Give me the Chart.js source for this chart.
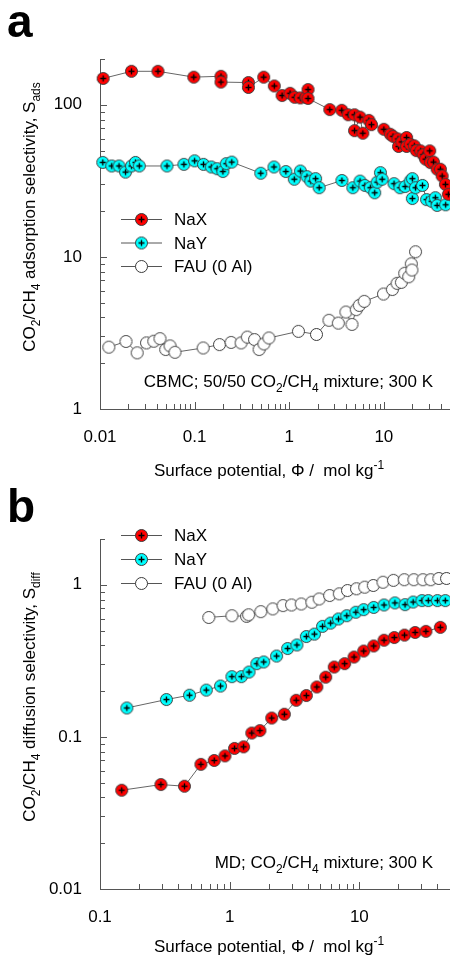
<!DOCTYPE html>
<html>
<head>
<meta charset="utf-8">
<script src="https://cdn.jsdelivr.net/npm/chart.js@4.4.0/dist/chart.umd.min.js"></script>
<style>
  html, body { margin: 0; padding: 0; background: #fff; overflow: hidden; }
  .panel { position: absolute; left: 0; width: 450px; height: 480px; }
</style>
</head>
<body>
<div class="panel" style="top:0"><canvas id="adsChart" width="450" height="480"></canvas></div>
<div class="panel" style="top:480px"><canvas id="diffChart" width="450" height="480"></canvas></div>
<script>
// series labels
const seriesNames = ["NaX", "NaY", "FAU (0 Al)"];

// panel a: adsorption selectivity vs surface potential  [phi, S_ads]
const adsNaX = [
  [0.0108, 149], [0.0215, 166], [0.041, 166], [0.098, 152], [0.19, 154], [0.19, 141],
  [0.37, 140], [0.37, 130], [0.537, 152], [0.695, 133], [0.84, 115], [1.02, 119],
  [1.14, 112], [1.31, 111], [1.5, 112], [1.58, 126], [1.58, 110], [2.68, 93],
  [3.59, 92], [4.2, 86], [4.9, 86], [4.9, 67.6], [5.6, 83], [6.0, 65], [6.95, 79],
  [7.4, 74], [10, 69], [11.7, 64], [12.5, 62], [14.1, 59.6], [14.3, 53.2], [15.5, 57],
  [17.4, 61], [17.4, 53.2], [19, 55], [21, 53.7], [22, 50], [24.5, 49.8], [26, 47],
  [27.6, 43.9], [30.5, 49.8], [31, 41.7], [33.5, 42], [36.6, 37.7], [39.6, 37.7],
  [41.3, 34], [44.7, 30], [48, 25.8]
];
const adsNaY = [
  [0.0107, 41.8], [0.0133, 39.6], [0.0159, 39.6], [0.0186, 36.1], [0.0215, 39.6],
  [0.0237, 41.8], [0.026, 39.6], [0.051, 39.6], [0.077, 40.6], [0.1, 42.8], [0.124, 40.6],
  [0.15, 39], [0.173, 38], [0.199, 36.4], [0.216, 41], [0.247, 42], [0.5, 35.5],
  [0.69, 39], [0.92, 36.4], [1.13, 32.4], [1.31, 36.7], [1.54, 33.7], [1.69, 31.5],
  [1.9, 32.7], [2.07, 28.5], [3.6, 31.8], [4.7, 28.5], [5.6, 31.5], [6.3, 29.5],
  [7.2, 28.5], [8.0, 26.4], [8.5, 31], [9.2, 35.8], [9.6, 32.4], [12.8, 30.3],
  [14.8, 28.5], [16.8, 29], [19, 31.5], [20, 32.7], [20, 24.2], [21.6, 28.5],
  [25.6, 29.5], [28.3, 23.8], [32, 23.2], [35, 24.5], [36.5, 21.8], [45, 22]
];
const adsFAU = [
  [0.0124, 2.55], [0.0188, 2.78], [0.0247, 2.34], [0.031, 2.72], [0.037, 2.79],
  [0.043, 2.9], [0.0495, 2.46], [0.055, 2.6], [0.062, 2.36], [0.123, 2.52], [0.183, 2.65],
  [0.243, 2.74], [0.31, 2.72], [0.36, 2.97], [0.43, 2.86], [0.48, 2.46], [0.54, 2.68],
  [0.61, 2.93], [1.25, 3.24], [1.94, 3.09], [2.63, 3.83], [3.3, 3.67], [3.97, 4.34],
  [4.6, 3.6], [5.1, 4.5], [5.5, 4.8], [6.2, 5.1], [9.9, 5.7], [12.3, 6.1], [13.8, 6.7],
  [15.3, 6.8], [16.6, 7.8], [18.3, 7.4], [19.5, 9.0], [19.8, 8.2], [21.6, 10.8]
];

// panel b: diffusion selectivity vs surface potential  [phi, S_diff]
const diffNaX = [
  [0.147, 0.0446], [0.295, 0.0486], [0.448, 0.0474], [0.6, 0.066], [0.76, 0.07],
  [0.92, 0.075], [1.09, 0.084], [1.28, 0.086], [1.48, 0.106], [1.71, 0.11], [2.11, 0.133],
  [2.64, 0.141], [3.26, 0.174], [3.9, 0.187], [4.7, 0.213], [5.5, 0.247], [6.4, 0.288],
  [7.7, 0.303], [9.1, 0.335], [10.8, 0.367], [12.9, 0.396], [15.5, 0.432], [18.6, 0.45],
  [22.3, 0.467], [26.9, 0.486], [32.6, 0.494], [42.1, 0.525]
];
const diffNaY = [
  [0.161, 0.155], [0.325, 0.176], [0.49, 0.188], [0.66, 0.203], [0.85, 0.216],
  [1.04, 0.249], [1.23, 0.249], [1.41, 0.267], [1.62, 0.303], [1.83, 0.311], [2.3, 0.34],
  [2.8, 0.381], [3.3, 0.402], [3.9, 0.457], [4.5, 0.474], [5.2, 0.533], [6.0, 0.56],
  [6.9, 0.596], [8.0, 0.626], [9.4, 0.66], [10.8, 0.686], [12.9, 0.71], [15.5, 0.737],
  [18.8, 0.76], [22.5, 0.74], [26, 0.77], [30.4, 0.787], [34, 0.787], [40, 0.787], [46, 0.787]
];
const diffFAU = [
  [0.69, 0.61], [1.04, 0.626], [1.35, 0.62], [1.4, 0.635], [1.74, 0.666], [2.15, 0.694],
  [2.58, 0.73], [3.0, 0.737], [3.56, 0.748], [4.3, 0.768], [4.9, 0.807], [5.9, 0.85],
  [7.0, 0.872], [8.1, 0.917], [9.5, 0.941], [11, 0.965], [12.8, 0.99], [15.2, 1.04],
  [18.3, 1.07], [22.2, 1.08], [26.3, 1.08], [30.9, 1.08], [35.5, 1.08], [41, 1.1], [47, 1.1]
];

// axis ranges and labelled ticks
const adsXRange = [0.01, 50];
const adsYRange = [1, 200];
const diffXRange = [0.1, 50];
const diffYRange = [0.01, 2];
const adsXTicks = ["0.01", "0.1", "1", "10"];
const adsYTicks = ["1", "10", "100"];
const diffXTicks = ["0.1", "1", "10"];
const diffYTicks = ["0.01", "0.1", "1"];

const FONT = "'Liberation Sans', Arial, sans-serif";
const AXIS = "#555";

// marker pictures (filled circle, optional +)
function makeMarker(fill, plus) {
  const c = document.createElement("canvas");
  c.width = 15; c.height = 15;
  const g = c.getContext("2d");
  g.beginPath();
  g.arc(7.5, 7.5, 6, 0, 2 * Math.PI);
  g.fillStyle = fill;
  g.fill();
  g.lineWidth = 1;
  g.strokeStyle = "#3a3a3a";
  g.stroke();
  if (plus) {
    g.beginPath();
    g.moveTo(4.5, 7.5); g.lineTo(10.5, 7.5);
    g.moveTo(7.5, 4.5); g.lineTo(7.5, 10.5);
    g.lineWidth = 1.4;
    g.strokeStyle = "#000";
    g.stroke();
  }
  return c;
}
const markers = [makeMarker("#ff0000", true), makeMarker("#00ffff", true), makeMarker("#ffffff", false)];

function drawRich(ctx, parts, x, y, size, align) {
  const small = Math.round(size * 0.68);
  const widths = parts.map(([t, m]) => {
    ctx.font = (m ? small : size) + "px " + FONT;
    return ctx.measureText(t).width;
  });
  const total = widths.reduce((a, b) => a + b, 0);
  let cx = align === "right" ? x - total : align === "center" ? x - total / 2 : x;
  ctx.textAlign = "left";
  ctx.textBaseline = "alphabetic";
  parts.forEach(([t, m], i) => {
    ctx.font = (m ? small : size) + "px " + FONT;
    const dy = m === "sub" ? size * 0.3 : m === "sup" ? -size * 0.42 : 0;
    ctx.fillText(t, cx, y + dy);
    cx += widths[i];
  });
}

function isDecade(v) {
  const l = Math.log10(v);
  return Math.abs(l - Math.round(l)) < 1e-6;
}

// ticks pointing into the plot
const inwardTicks = {
  id: "inwardTicks",
  beforeDatasetsDraw(chart) {
    const ctx = chart.ctx, area = chart.chartArea;
    ctx.save();
    ctx.strokeStyle = AXIS;
    ctx.lineWidth = 1;
    ["x", "y"].forEach((id) => {
      const s = chart.scales[id];
      for (let e = Math.floor(Math.log10(s.min)); e <= Math.ceil(Math.log10(s.max)); e++) {
        for (let m = 1; m <= 9; m++) {
          const v = m * Math.pow(10, e);
          if (v < s.min * 0.999 || v > s.max * 1.001) continue;
          const p = Math.round(s.getPixelForValue(v)) + 0.5;
          const len = m === 1 ? 7 : 5;
          ctx.beginPath();
          if (id === "x") { ctx.moveTo(p, area.bottom); ctx.lineTo(p, area.bottom - len); }
          else { ctx.moveTo(area.left, p); ctx.lineTo(area.left + len, p); }
          ctx.stroke();
        }
      }
    });
    ctx.restore();
  },
};

// letters, legend, axis titles, note
const decor = {
  id: "decor",
  afterDraw(chart, args, o) {
    const ctx = chart.ctx;
    ctx.save();
    ctx.fillStyle = "#000";
    ctx.font = "bold 46px " + FONT;
    ctx.textAlign = "left";
    ctx.textBaseline = "alphabetic";
    ctx.fillText(o.letter, 7, o.letterY);

    chart.data.datasets.forEach((ds, i) => {
      const y = o.legendY[i];
      ctx.strokeStyle = AXIS;
      ctx.lineWidth = 1;
      ctx.beginPath();
      ctx.moveTo(121, y + 0.5); ctx.lineTo(162, y + 0.5);
      ctx.stroke();
      ctx.drawImage(ds.pointStyle, 134, y - 7);
      ctx.fillStyle = "#000";
      drawRich(ctx, [[ds.label]], 174, y + 6, 17, "left");
    });

    drawRich(ctx, o.note, 433, o.noteY, 17, "right");
    drawRich(ctx, [["Surface potential, \u03A6 /  mol kg"], ["-1", "sup"]], 269, o.xTitleY, 17, "center");

    ctx.translate(35, 217);
    ctx.rotate(-Math.PI / 2);
    drawRich(ctx, o.yTitle, 0, 0, 17, "center");
    ctx.restore();
  },
};

function makeDatasets(series) {
  return series.map((pts, i) => ({
    label: seriesNames[i],
    data: pts.map(([x, y]) => ({ x, y })),
    showLine: true,
    borderColor: "#666",
    borderWidth: 1,
    pointStyle: markers[i],
    pointRadius: 6,
    clip: false,
  }));
}

function makeScale(range, labels, fitFn) {
  return {
    type: "logarithmic",
    min: range[0],
    max: range[1],
    grid: { display: false },
    border: { display: true, color: AXIS, width: 1 },
    ticks: {
      autoSkip: false,
      maxRotation: 0,
      padding: 10,
      color: "#000",
      font: { size: 17, family: FONT },
      callback: (v) => {
        if (!isDecade(v)) return "";
        const hit = labels.find((l) => Math.abs(parseFloat(l) - v) < v * 1e-6);
        return hit || "";
      },
    },
    afterFit: fitFn,
  };
}

function makeChart(id, series, xr, yr, xl, yl, deco) {
  return new Chart(document.getElementById(id), {
    type: "scatter",
    data: { datasets: makeDatasets(series) },
    options: {
      responsive: false,
      animation: false,
      events: [],
      layout: { autoPadding: false, padding: { top: 59, left: 0, right: 0, bottom: 0 } },
      plugins: { legend: { display: false }, tooltip: { enabled: false }, decor: deco },
      scales: {
        x: makeScale(xr, xl, (s) => { s.height = 71; s.paddingLeft = 0; s.paddingRight = 0; }),
        y: makeScale(yr, yl, (s) => { s.width = 100; s.paddingTop = 0; s.paddingBottom = 0; }),
      },
    },
    plugins: [inwardTicks, decor],
  });
}

makeChart("adsChart", [adsNaX, adsNaY, adsFAU], adsXRange, adsYRange, adsXTicks, adsYTicks, {
  letter: "a", letterY: 37,
  legendY: [219, 242.5, 266],
  note: [["CBMC; 50/50 CO"], ["2", "sub"], ["/CH"], ["4", "sub"], [" mixture; 300 K"]],
  noteY: 387,
  xTitleY: 476,
  yTitle: [["CO"], ["2", "sub"], ["/CH"], ["4", "sub"], [" adsorption selectivity, S"], ["ads", "sub"]],
});

makeChart("diffChart", [diffNaX, diffNaY, diffFAU], diffXRange, diffYRange, diffXTicks, diffYTicks, {
  letter: "b", letterY: 42,
  legendY: [55, 79, 103],
  note: [["MD; CO"], ["2", "sub"], ["/CH"], ["4", "sub"], [" mixture; 300 K"]],
  noteY: 388,
  xTitleY: 472,
  yTitle: [["CO"], ["2", "sub"], ["/CH"], ["4", "sub"], [" diffusion selectivity, S"], ["diff", "sub"]],
});
</script>
</body>
</html>
